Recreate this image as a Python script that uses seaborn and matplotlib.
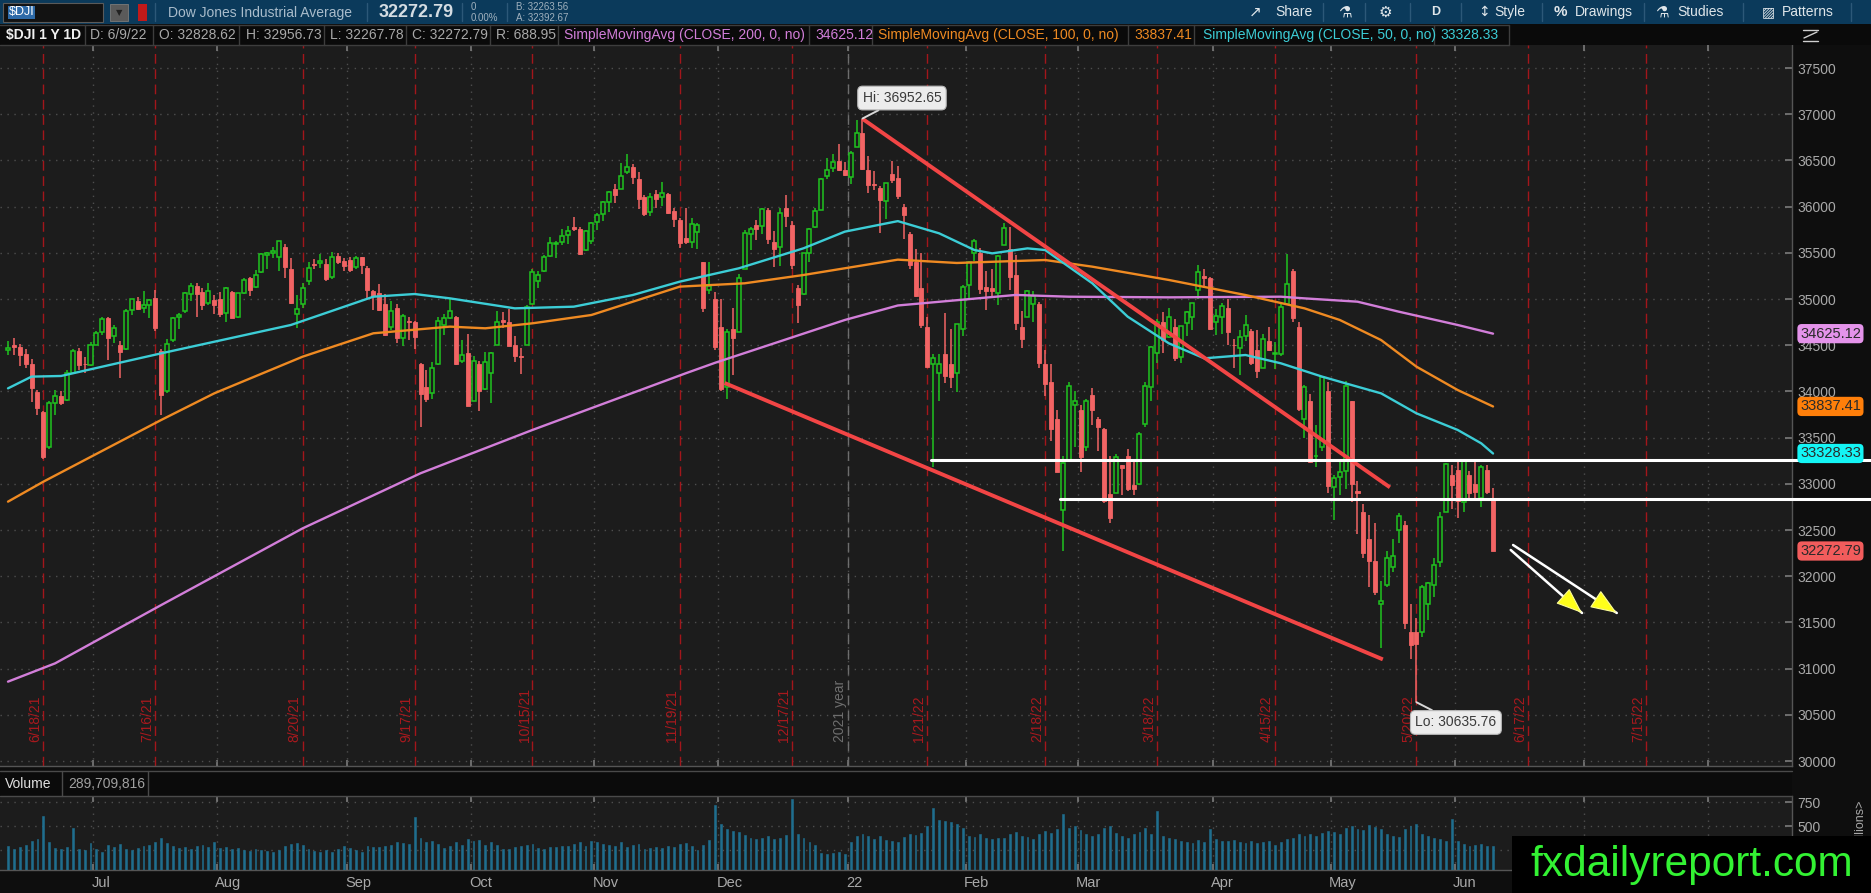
import numpy as np
import pandas as pd
import matplotlib
matplotlib.use("Agg")
import matplotlib.pyplot as plt
import seaborn as sns
from matplotlib.patches import Rectangle
from matplotlib.lines import Line2D
from matplotlib import transforms

# ---------------- data ----------------
first_day = "2021-06-10"
last_day = "2022-06-09"
market_holidays = ["2021-07-05", "2021-09-06", "2021-11-25", "2021-12-24",
                   "2022-01-17", "2022-02-21", "2022-04-15", "2022-05-30"]

opens = [
    34447, 34500, 34480, 34400, 34300, 33990, 33780, 33400, 33870, 33950, 33910, 34200, 34440, 34300, 34290,
    34507, 34640, 34790, 34600, 34500, 34460, 34880, 34980, 34900, 34930, 35010, 34440, 34000, 34560, 34800, 34870, 35050, 35140, 35080, 34960, 34990,
    35000, 34850, 35080, 34800, 35070, 35230, 35130, 35290, 35480, 35500, 35460, 35560, 35330, 34840, 34950, 35200, 35380, 35390, 35380, 35240, 35470, 35410,
    35420, 35350, 35450, 35340, 35090, 35060, 34950, 34700, 34900, 34580, 34760, 34750, 34300, 34050, 33980, 34300, 34720, 34790, 34800, 34330, 34420,
    33900, 34300, 34030, 34200, 34500, 34770, 34750, 34500, 34380, 34500, 34950, 35200, 35300, 35470, 35600, 35620, 35690, 35780, 35760, 35530, 35630,
    35830, 35920, 36050, 36190, 36190, 36370, 36430, 36300, 36100, 35940, 36140, 36100, 36140, 35950, 35860, 35660, 35620, 35720, 35400, 35100, 35000,
    34700, 34050, 34680, 34640, 35320, 35700, 35800, 35790, 35960, 35620, 35560, 35980, 35800, 35120, 35050, 35500, 35780, 35960, 36330, 36420, 36490, 36400,
    36320, 36640, 36800, 36400, 36250, 36200, 36060, 36350, 36310, 36000, 35700, 35400, 35120, 34700, 34300, 34200, 34400, 34300, 34200, 34680,
    35150, 35500, 35500, 35130, 35120, 35060, 35580, 35540, 35260, 34700, 34800, 34950, 34950, 34300, 34100, 33700, 32720, 33250, 33850,
    33800, 33400, 33960, 33700, 33590, 32890, 32900, 33200, 33300, 32990, 33000, 33650, 34050, 34420, 34750, 34590, 34700, 34370, 34740, 34800, 35100, 35250, 35230,
    34750, 34800, 34900, 34500, 34470, 34600, 34650, 34450, 34250, 34550, 34400, 34400, 34950, 35300, 34700, 33700, 33900, 33300, 33400, 34000,
    32970, 33070, 33140, 33900, 32920, 32700, 32400, 32170, 31700, 31900, 32100, 32500, 32550, 31400, 31400, 31400, 31700, 31900, 32150, 32700, 33100,
    33150, 32800, 33100, 33000, 32850, 33150, 32829,
]
highs = [
    34545, 34580, 34510, 34460, 34350, 34020, 33790, 33900, 34010, 34000, 34230, 34460, 34470, 34370, 34540,
    34650, 34800, 34800, 34720, 34550, 34890, 35000, 35020, 35090, 35000, 35100, 34460, 34570, 34810, 34850, 35080, 35170, 35170, 35120, 35170, 35040,
    35080, 35130, 35090, 35070, 35230, 35240, 35310, 35500, 35510, 35560, 35631, 35600, 35440, 35040, 35170, 35400, 35430, 35490, 35430, 35510, 35500, 35440,
    35450, 35470, 35460, 35360, 35100, 35160, 35050, 34980, 34950, 34840, 34800, 34760, 34310, 34230, 34320, 34800, 34840, 35000, 34820, 34560, 34620,
    34380, 34330, 34430, 34430, 34870, 34860, 34890, 34600, 34470, 34930, 35320, 35300, 35480, 35670, 35630, 35760, 35790, 35890, 35780, 35750, 35830,
    35930, 36060, 36170, 36250, 36470, 36565, 36460, 36370, 36130, 36150, 36180, 36270, 36150, 35990, 35880, 35990, 35880, 35820, 35400, 35400, 35080,
    35000, 34680, 34900, 35270, 35750, 35780, 35850, 35980, 35990, 35740, 35990, 36130, 35840, 35150, 35500, 35770, 35990, 36310, 36530, 36570, 36680, 36480,
    36600, 36935, 36953, 36550, 36390, 36220, 36260, 36490, 36440, 36030, 35720, 35540, 35500, 34800, 34400, 34400, 34850, 34680, 34730, 35150,
    35410, 35650, 35550, 35300, 35320, 35480, 35824, 35780, 35480, 34870, 35100, 35090, 34970, 34450, 34300, 33800, 33300, 34100, 34000,
    33850, 33920, 34040, 33720, 33600, 33300, 33320, 33200, 33380, 33250, 33560, 34100, 34490, 34780, 34860, 34900, 34780, 34710, 34870, 34960, 35372, 35330, 35240,
    34890, 34960, 35000, 34570, 34660, 34830, 34680, 34670, 34620, 34700, 34530, 34950, 35492, 35330, 34750, 34070, 33970, 33640, 34160, 34100,
    33100, 33270, 34117, 33900, 33030, 32780, 32660, 32580, 31950, 32270, 32400, 32680, 32600, 31700, 31550, 31900, 31940, 32200, 32700, 33220, 33200,
    33270, 33250, 33140, 33270, 33200, 33200, 32957,
]
lows = [
    34398, 34394, 34270, 34250, 33880, 33740, 33271, 33380, 33740, 33850, 33900, 34190, 34230, 34200, 34270,
    34500, 34610, 34340, 34520, 34145, 34450, 34830, 34880, 34850, 34790, 34650, 33741, 33980, 34530, 34680, 34850, 34980, 34810, 34880, 34940, 34840,
    34800, 34750, 34790, 34790, 35050, 35030, 35120, 35280, 35330, 35440, 35300, 35230, 34950, 34690, 34900, 35150, 35320, 35340, 35190, 35220, 35380, 35300,
    35290, 35330, 35270, 35000, 34880, 34870, 34600, 34660, 34520, 34490, 34560, 34460, 33613, 33880, 33920, 34290, 34610, 34780, 34290, 34310, 33840,
    33900, 33785, 34020, 33870, 34500, 34690, 34490, 34320, 34190, 34500, 34950, 35120, 35290, 35450, 35440, 35580, 35600, 35740, 35480, 35520, 35590,
    35750, 35840, 35940, 36040, 36190, 36350, 36240, 35970, 35900, 35900, 35990, 36010, 35920, 35780, 35550, 35600, 35550, 35540, 34860, 35050, 34450,
    34006, 33920, 34180, 34640, 35320, 35530, 35640, 35700, 35600, 35350, 35360, 35780, 35330, 34740, 35040, 35400, 35770, 35960, 36300, 36370, 36390, 36330,
    36250, 36640, 36400, 36150, 36180, 35710, 35870, 36260, 36080, 35650, 35320, 35020, 34690, 34260, 33180, 33900, 34090, 34040, 33990, 34600,
    34990, 35410, 35050, 34880, 35030, 34940, 35580, 35100, 34670, 34470, 34800, 34750, 34250, 33950, 33460, 33130, 32273, 33250, 33400,
    33130, 33350, 33640, 33350, 32790, 32580, 32900, 32880, 32920, 32880, 32990, 33620, 33900, 34310, 34420, 34580, 34330, 34310, 34600, 34660, 35000, 35120, 34670,
    34610, 34620, 34500, 34250, 34180, 34550, 34290, 34150, 34250, 34440, 34240, 34380, 34950, 34750, 33790, 33500, 33230, 33180, 33360, 32900,
    32610, 32880, 32940, 32800, 32460, 32200, 31880, 31800, 31228, 31880, 32050, 32360, 31430, 31100, 30636, 31340, 31530, 31770, 32100, 32700, 32730,
    32630, 32700, 32810, 32850, 32750, 32890, 32268,
]
closes = [
    34466, 34480, 34394, 34299, 34033, 33823, 33290, 33877, 33945, 33874, 34196, 34433, 34283, 34292, 34503,
    34634, 34786, 34577, 34681, 34422, 34870, 34997, 34889, 34933, 34987, 34688, 33962, 34512, 34798, 34823, 35062, 35144, 35059, 34930, 35085, 34935,
    34838, 35117, 34793, 35065, 35209, 35102, 35265, 35485, 35500, 35515, 35626, 35343, 34961, 34894, 35120, 35336, 35367, 35406, 35214, 35456, 35400, 35361,
    35313, 35444, 35369, 35100, 35031, 34879, 34608, 34870, 34578, 34814, 34751, 34585, 33970, 33919, 34258, 34765, 34798, 34870, 34300, 34390, 33844,
    34326, 34003, 34315, 34417, 34755, 34746, 34496, 34378, 34377, 34912, 35295, 35259, 35458, 35609, 35603, 35677, 35741, 35757, 35491, 35731, 35820,
    35913, 36053, 36158, 36124, 36328, 36432, 36320, 36080, 35921, 36100, 36087, 36143, 35931, 35871, 35602, 35619, 35814, 35804, 34899, 35136, 34484,
    34022, 34640, 34580, 35227, 35719, 35754, 35754, 35971, 35651, 35545, 35928, 35898, 35365, 34932, 35493, 35754, 35951, 36302, 36398, 36488, 36398, 36338,
    36585, 36799, 36408, 36236, 36232, 36068, 36252, 36290, 36114, 35912, 35369, 35029, 34715, 34265, 34365, 34298, 34168, 34161, 34725, 35132,
    35405, 35629, 35111, 35090, 35091, 35463, 35768, 35242, 34738, 34566, 35089, 35034, 34312, 34079, 33597, 33131, 33224, 34059, 33893,
    33294, 33891, 33795, 33615, 32818, 32633, 33286, 33174, 32944, 32945, 33544, 34063, 34481, 34755, 34553, 34808, 34359, 34708, 34861, 34955, 35294, 35229, 34678,
    34818, 34922, 34641, 34497, 34584, 34721, 34308, 34220, 34565, 34451, 34412, 34911, 35161, 34793, 33811, 34049, 33240, 33302, 34160, 32977,
    33062, 33129, 34061, 32998, 32899, 32246, 32161, 31834, 31730, 32197, 32223, 32655, 31490, 31253, 31262, 31880, 31929, 32120, 32637, 33213, 32990,
    32813, 33248, 32900, 32916, 33180, 32910, 32273,
]
volumes_m = [
    290, 260, 280, 300, 340, 360, 600, 330, 270, 260, 280, 480, 260, 250, 320,
    260, 230, 300, 280, 310, 260, 250, 270, 290, 300, 330, 380, 320, 290, 270, 280, 260, 290, 300, 280, 330,
    270, 280, 260, 270, 250, 240, 260, 250, 240, 230, 250, 290, 310, 320, 300, 260, 240, 230, 250, 230, 260, 290,
    270, 250, 230, 290, 280, 280, 290, 300, 330, 320, 310, 590, 380, 330, 340, 310, 270, 290, 330, 300, 360,
    340, 350, 300, 330, 300, 260, 260, 280, 290, 300, 310, 270, 260, 280, 280, 290, 290, 310, 330, 290, 340,
    330, 310, 300, 290, 330, 280, 300, 310, 260, 270, 280, 270, 290, 280, 310, 320, 290, 250, 300, 350, 720,
    520, 470, 450, 440, 410, 380, 360, 380, 400, 360, 380, 410, 780, 420, 380, 330, 300, 220, 210, 220, 230, 210,
    330, 400, 420, 400, 360, 400, 350, 340, 330, 390, 420, 410, 430, 500, 690, 560, 550, 540, 520, 480,
    400, 390, 420, 380, 360, 370, 380, 420, 440, 400, 390, 360, 420, 450, 430, 470, 620, 480, 500,
    460, 420, 400, 420, 480, 500, 430, 400, 380, 420, 440, 480, 420, 660, 400, 380, 360, 340, 330, 320, 350, 330, 470,
    360, 340, 340, 350, 330, 320, 340, 320, 330, 340, 300, 330, 360, 370, 420, 400, 420, 400, 430, 450,
    440, 420, 480, 500, 470, 460, 510, 490, 470, 420, 400, 390, 470, 500, 520, 420, 400, 380, 360, 340, 570,
    340, 310, 290, 300, 310, 290, 290,
]

# moving averages (bar number, value)
sma200_bar = [0, 8, 26, 50, 70, 89, 115, 120, 142, 151, 171, 180, 197, 216, 220, 229, 236, 246, 252]
sma200_val = [30859, 31057, 31688, 32518, 33114, 33583, 34196, 34310, 34773, 34930, 35044, 35025, 35018,
              35025, 35007, 34971, 34863, 34719, 34625]
sma100_bar = [0, 6, 26, 35, 50, 62, 75, 81, 89, 99, 114, 125, 135, 151, 161, 176, 184, 197, 210, 220,
              226, 233, 239, 246, 252]
sma100_val = [32807, 33023, 33691, 33979, 34376, 34629, 34701, 34683, 34737, 34827, 35134, 35170, 35260,
              35426, 35390, 35422, 35350, 35206, 35043, 34899, 34773, 34556, 34268, 34015, 33837]
sma50_bar = [0, 4, 9, 26, 48, 62, 69, 75, 86, 96, 106, 114, 124, 135, 142, 151, 158, 164, 167, 173, 176,
             184, 190, 197, 203, 210, 216, 223, 227, 233, 236, 239, 246, 250, 252]
sma50_val = [34033, 34160, 34167, 34412, 34719, 35025, 35054, 35007, 34899, 34917, 35043, 35188, 35332,
             35549, 35729, 35843, 35711, 35530, 35494, 35548, 35530, 35170, 34809, 34520, 34358, 34394,
             34304, 34160, 34087, 33979, 33871, 33763, 33583, 33438, 33328]

last_values = {"sma200": "34625.12", "sma100": "33837.41", "sma50": "33328.33", "close": "32272.79"}
option_expiries = ["2021-06-18", "2021-07-16", "2021-08-20", "2021-09-17", "2021-10-15", "2021-11-19",
                   "2021-12-17", "2022-01-21", "2022-02-18", "2022-03-18", "2022-04-15", "2022-05-20",
                   "2022-06-17", "2022-07-15"]

# drawings (bar number, price)
trend_x = [[145, 234.5], [121.6, 233.3]]
trend_y = [[36950, 32962], [34091, 31100]]
level_start = [156.6, 178.5]
level_price = [33263, 32835]
arrow_x = [[255.4, 273.0], [255.0, 267.1]]
arrow_y = [[32338, 31602], [32284, 31602]]
hi_label = ("Hi: 36952.65", 145, 36953)
lo_label = ("Lo: 30635.76", 239, 30636)

assert len(opens) == len(highs) == len(lows) == len(closes) == len(volumes_m) == 253

# ---------------- style ----------------
sns.set_theme(style="dark")
plt.rcParams["font.family"] = ["Liberation Sans", "DejaVu Sans"]

W, H = 1871, 893
FIG_BG = "#0e0e0e"
BG = "#1c1c1c"
GREEN = "#1fc41f"
RED = "#f26464"
TREND = "#f24545"
EXP = "#a3161b"
GRID = "#4e4e4e"
TXT = "#a9a9a9"
C200 = "#d27ed9"
C100 = "#ef8a22"
C50 = "#3ccdd6"
VOL = "#1f6e8e"

fig = plt.figure(figsize=(W / 100, H / 100), dpi=100, facecolor=FIG_BG)


def fx(px):
    return px / W


def fy(py):
    return 1 - py / H


def ftext(px, py, s, **kw):
    kw.setdefault("va", "center")
    kw.setdefault("ha", "left")
    kw.setdefault("color", TXT)
    kw.setdefault("fontsize", 10)
    return fig.text(fx(px), fy(py), s, **kw)


def frect(px, py, pw, ph, **kw):
    r = Rectangle((fx(px), fy(py + ph)), pw / W, ph / H, transform=fig.transFigure, **kw)
    fig.add_artist(r)
    return r


def fline(x1, y1, x2, y2, **kw):
    fig.add_artist(Line2D([fx(x1), fx(x2)], [fy(y1), fy(y2)], transform=fig.transFigure, **kw))


PLOT_R = 1792
ax = fig.add_axes([0, fy(766), fx(PLOT_R), (766 - 45) / H])
axv = fig.add_axes([0, fy(870), fx(PLOT_R), (870 - 796) / H], sharex=ax)
for a in (ax, axv):
    a.set_facecolor(BG)
    for s in ("left", "top"):
        a.spines[s].set_visible(False)
    for s in ("right", "bottom"):
        a.spines[s].set_color("#555555")
        a.spines[s].set_linewidth(1)

# calendar
hist = pd.bdate_range(first_day, last_day, freq="C", holidays=pd.to_datetime(market_holidays))
assert len(hist) == len(closes)
future = pd.bdate_range("2022-06-10", "2022-09-30")
cal = hist.append(future)


def bar_of(d):
    return int(cal.searchsorted(pd.Timestamp(d)))


x = np.arange(len(closes))
o = np.array(opens, float)
h = np.array(highs, float)
l = np.array(lows, float)
c = np.array(closes, float)
up = c >= o

XL = (-8 / 5.893, (PLOT_R - 8) / 5.893)
ax.set_xlim(*XL)
ax.set_ylim(29946, 37749)

# month boundaries
month_starts = pd.date_range("2021-07-01", "2022-08-01", freq="MS")
mpos = [bar_of(m) - 0.5 for m in month_starts]
ax.set_xticks(mpos)
ax.tick_params(axis="x", which="both", direction="in", length=4, color="#777777",
               labelbottom=False, bottom=True, top=True)
ax.yaxis.tick_right()
ax.set_yticks(np.arange(30000, 37501, 500))
ax.set_yticklabels([str(v) for v in range(30000, 37501, 500)])
ax.tick_params(axis="y", direction="in", length=5, color="#777777", labelcolor=TXT,
               labelsize=10, pad=4, right=True, left=False)
ax.grid(True, which="major", axis="both", color=GRID, lw=1, ls=(0, (1, 4)), zorder=0)
ax.set_axisbelow(True)

# year boundary
ypos = bar_of("2022-01-03") - 0.5
ax.axvline(ypos, color="#6d6d6d", lw=1, ls=(0, (7, 4)), zorder=1)
ax.text(ypos - 0.2, 30206, "2021 year", rotation=90, ha="right", va="bottom", color="#6e6e6e",
        fontsize=10, zorder=2)

# option-expiration lines
for d in option_expiries:
    dt = pd.Timestamp(d)
    p = bar_of(dt)
    ax.axvline(p, color=EXP, lw=1, ls=(0, (7, 4)), zorder=1)
    ax.text(p - 0.15, 30206, f"{dt.month}/{dt.day}/{dt:%y}", rotation=90, ha="right", va="bottom",
            color="#a8191e", fontsize=10, zorder=2)

# candles
ax.vlines(x, l, h, colors=np.where(up, GREEN, RED), lw=1.1, zorder=3)
ax.bar(x[up], np.maximum(c - o, 4)[up], bottom=o[up], width=0.68, facecolor=BG, edgecolor=GREEN,
       lw=1.1, zorder=4)
ax.bar(x[~up], (o - c)[~up], bottom=c[~up], width=0.68, facecolor=RED, edgecolor=RED, lw=0.6, zorder=4)

# moving averages
sns.lineplot(x=sma200_bar, y=sma200_val, ax=ax, color=C200, lw=1.7, zorder=5)
sns.lineplot(x=sma100_bar, y=sma100_val, ax=ax, color=C100, lw=1.7, zorder=5)
sns.lineplot(x=sma50_bar, y=sma50_val, ax=ax, color=C50, lw=1.7, zorder=5)
ax.set_xlabel("")
ax.set_ylabel("")

# trend lines
for tx, ty in zip(trend_x, trend_y):
    ax.plot(tx, ty, color=TREND, lw=2.8, solid_capstyle="butt", zorder=6)

# horizontal levels extending across the price scale
right_edge_bar = (W - 8) / 5.893
for xs, pv in zip(level_start, level_price):
    ax.plot([xs, right_edge_bar], [pv, pv], color="white", lw=2.2, zorder=6, clip_on=False)

# arrows (white shaft, yellow head)
for axs, ays in zip(arrow_x, arrow_y):
    (x1, x2), (y1, y2) = axs, ays
    ax.annotate("", xy=(x2, y2), xytext=(x1, y1),
                arrowprops=dict(arrowstyle="-", color="white", lw=1.8, shrinkA=0, shrinkB=0), zorder=7)
    hx, hy = x1 + 0.8 * (x2 - x1), y1 + 0.8 * (y2 - y1)
    ax.annotate("", xy=(x2, y2), xytext=(hx, hy),
                arrowprops=dict(arrowstyle="-|>,head_length=1.3,head_width=0.5", fc="#ffff1a",
                                ec="#fbfb9a", lw=0.8, mutation_scale=13, shrinkA=0, shrinkB=0), zorder=8)

# Hi / Lo bubbles
for (txt, bx, by), (tx, ty) in zip([hi_label, lo_label], [(151.7, 37175), (245.7, 30417)]):
    ax.annotate(txt, xy=(bx, by), xytext=(tx, ty), ha="center", va="center", fontsize=10,
                color="#3a3a3a", zorder=9,
                bbox=dict(boxstyle="round,pad=0.35", fc="#ececec", ec="#b8b8b8", lw=0.8),
                arrowprops=dict(arrowstyle="-", color="#d8d8d8", lw=1.4, shrinkA=0, shrinkB=0))

# right-side last-value tags
blend = transforms.blended_transform_factory(ax.transAxes, ax.transData)
tags = [(float(last_values["sma200"]), last_values["sma200"], "#e493ea"),
        (float(last_values["sma100"]), last_values["sma100"], "#ff7f0a"),
        (float(last_values["sma50"]), last_values["sma50"], "#14f5f5"),
        (float(last_values["close"]), last_values["close"], "#f25c5c")]
for val, s, col in tags:
    ax.text(1800 / PLOT_R, val, s, transform=blend, ha="left", va="center", fontsize=10.5,
            color="#2a2a2a", zorder=12, clip_on=False,
            bbox=dict(boxstyle="round,pad=0.18,rounding_size=0.3", fc=col, ec="none"))

# ---------------- volume ----------------
axv.bar(x, volumes_m, width=0.32, facecolor=VOL, edgecolor=VOL, lw=0.4, zorder=3)
axv.set_ylim(41.7, 812.5)
axv.set_xlim(*XL)
axv.set_xticks(mpos)
axv.tick_params(axis="x", direction="in", length=4, color="#777777", labelbottom=False,
                bottom=True, top=True)
axv.yaxis.tick_right()
axv.set_yticks([250, 500, 750])
axv.set_yticklabels(["", "500", "750"])
axv.tick_params(axis="y", direction="in", length=5, color="#777777", labelcolor=TXT, labelsize=10,
                pad=4, right=True, left=False)
axv.grid(True, axis="both", color=GRID, lw=1, ls=(0, (1, 4)), zorder=0)
axv.set_axisbelow(True)

mblend = transforms.blended_transform_factory(axv.transData, fig.transFigure)
for m, p in zip(month_starts, mpos):
    if p > XL[1]:
        continue
    lab = "22" if m.month == 1 else m.strftime("%b")
    axv.text(p - 0.3, fy(883), lab, transform=mblend, ha="left", va="center", color=TXT,
             fontsize=10.5, clip_on=False)

ftext(1860, 800, "Millions>", rotation=90, ha="center", va="top", fontsize=9, color=TXT)

# ---------------- header bars ----------------
frect(0, 0, W, 24, fc="#0b3a5b", ec="none", zorder=1)
frect(3, 3, 100, 19, fc="#121212", ec="#5a5a5a", lw=0.8, zorder=2)
frect(8, 6, 27, 13, fc="#2d6aa8", ec="none", zorder=2)
ftext(9, 12.5, "$DJI", color="white", fontsize=9)
frect(110, 4, 18, 17, fc="#5a5a5a", ec="#7a7a7a", lw=0.6, zorder=2)
ftext(119, 12.5, "▼", fontsize=6, color="#222222", ha="center", family="DejaVu Sans")
frect(138, 4, 9, 17, fc="#c11a1a", ec="none", zorder=2)
ftext(168, 12.5, "Dow Jones Industrial Average", color="#a9bccb", fontsize=10)
ftext(379, 12.5, "32272.79", color="#d4dce2", fontsize=13, weight="bold")
ftext(471, 7, "0", fontsize=7, color="#9fb0bd")
ftext(471, 18, "0.00%", fontsize=7, color="#9fb0bd")
ftext(516, 7, "B: 32263.56", fontsize=7, color="#9fb0bd")
ftext(516, 18, "A: 32392.67", fontsize=7, color="#9fb0bd")
for sx in (155, 367, 462, 507, 1323, 1365, 1410, 1461, 1542, 1644, 1743, 1851):
    fline(sx, 3, sx, 21, color="#2c5878", lw=1, zorder=2)
ftext(1249, 12, "↗", color="#e0e6ea", fontsize=11, family="DejaVu Sans")
ftext(1275, 12, "Share", color="#dfe6ea", fontsize=10)
ftext(1345, 12, "⚗", color="#e0e6ea", fontsize=11, ha="center", family="DejaVu Sans")
ftext(1385, 12, "⚙", color="#e0e6ea", fontsize=11, ha="center", family="DejaVu Sans")
ftext(1436, 12, "D", color="#e0e6ea", fontsize=9, ha="center", weight="bold")
ftext(1478, 12, "↕", color="#e0e6ea", fontsize=10, family="DejaVu Sans")
ftext(1494, 12, "Style", color="#dfe6ea", fontsize=10)
ftext(1554, 12, "%", color="#e0e6ea", fontsize=11, weight="bold")
ftext(1575, 12, "Drawings", color="#dfe6ea", fontsize=10)
ftext(1662, 12, "⚗", color="#e0e6ea", fontsize=11, ha="center", family="DejaVu Sans")
ftext(1677, 12, "Studies", color="#dfe6ea", fontsize=10)
ftext(1768, 12, "▨", color="#e0e6ea", fontsize=10, ha="center", family="DejaVu Sans")
ftext(1782, 12, "Patterns", color="#dfe6ea", fontsize=10)

frect(0, 24, W, 21, fc="#0a0a0a", ec="none", zorder=1)
fline(0, 25, 1509, 25, color="#3d3d3d", lw=1, zorder=2)
fline(0, 44.5, 1509, 44.5, color="#3d3d3d", lw=1, zorder=2)
for sx in (85, 153, 239, 324, 406, 490, 558, 809, 872, 1128, 1194, 1434, 1509):
    fline(sx, 25, sx, 45, color="#3d3d3d", lw=1, zorder=2)
ftext(6, 35, "$DJI 1 Y 1D", weight="bold", color="#f0f0f0", fontsize=10)
for px, s in [(90, "D: 6/9/22"), (159, "O: 32828.62"), (246, "H: 32956.73"), (330, "L: 32267.78"),
              (412, "C: 32272.79"), (496, "R: 688.95")]:
    ftext(px, 35, s, color="#a8a8a8", fontsize=10)
ftext(564, 35, "SimpleMovingAvg (CLOSE, 200, 0, no)", color=C200, fontsize=10)
ftext(815, 35, "34625.12", color=C200, fontsize=10)
ftext(878, 35, "SimpleMovingAvg (CLOSE, 100, 0, no)", color=C100, fontsize=10)
ftext(1134, 35, "33837.41", color=C100, fontsize=10)
ftext(1203, 35, "SimpleMovingAvg (CLOSE, 50, 0, no)", color=C50, fontsize=10)
ftext(1440, 35, "33328.33", color=C50, fontsize=10)
fline(1803, 30, 1818, 30, color="#cfcfcf", lw=1, zorder=2)
fline(1803, 41, 1818, 41, color="#cfcfcf", lw=1, zorder=2)
fline(1804, 38, 1817, 32, color="#cfcfcf", lw=1, zorder=2)

# volume header band
frect(0, 771, PLOT_R, 25, fc="#0b0b0b", ec="none", zorder=1)
fline(0, 771, PLOT_R, 771, color="#4a4a4a", lw=1, zorder=2)
fline(0, 795.5, PLOT_R, 795.5, color="#4a4a4a", lw=1, zorder=2)
fline(62, 771, 62, 796, color="#4a4a4a", lw=1, zorder=2)
fline(148, 771, 148, 796, color="#4a4a4a", lw=1, zorder=2)
ftext(5, 784, "Volume", color="#e0e0e0", fontsize=10)
ftext(68, 784, "289,709,816", color="#a0a0a0", fontsize=10)

# watermark
frect(1512, 836, W - 1512, H - 836, fc="black", ec="none", zorder=50)
ftext(1530, 876, "fxdailyreport.com", color="#33f233", fontsize=30.5, va="baseline",
      family="Liberation Sans", zorder=51)

fig.savefig("out.png", dpi=100, facecolor=fig.get_facecolor())
